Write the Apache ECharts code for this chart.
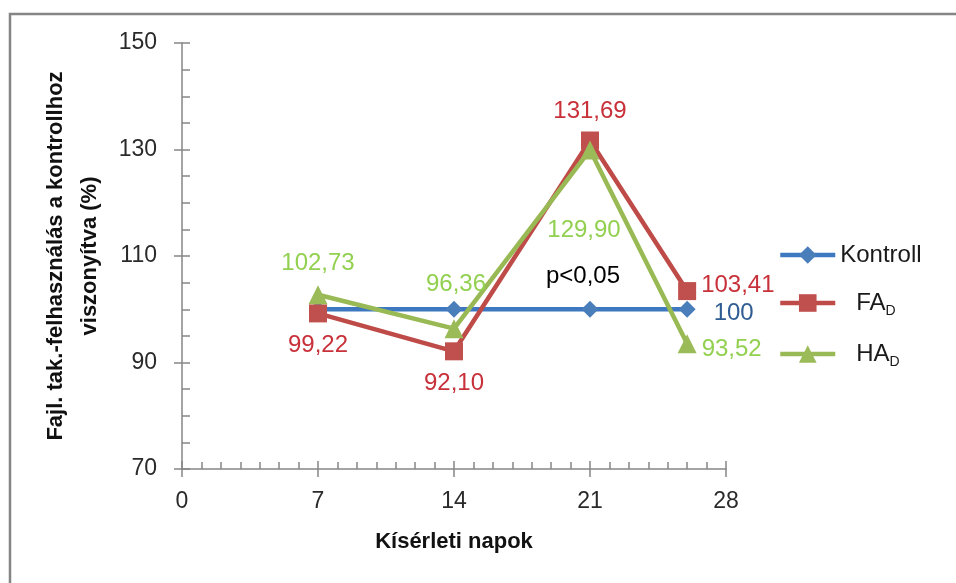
<!DOCTYPE html>
<html>
<head>
<meta charset="utf-8">
<script src="https://cdn.jsdelivr.net/npm/echarts@6/dist/echarts.min.js"></script>
<style>html,body{margin:0;padding:0;background:#fff;}#c{width:956px;height:583px;}</style>
</head>
<body>
<div id="c"></div>
<script>
// ---- data ----
const days = [7, 14, 21, 26];
const kontroll = [100, 100, 100, 100];
const faD = [99.22, 92.10, 131.69, 103.41];
const haD = [102.73, 96.36, 129.90, 93.52];
const xTicks = [0, 7, 14, 21, 28];
const yTicks = [70, 90, 110, 130, 150];
const seriesNames = ['Kontroll', 'FA_D', 'HA_D'];

const FONT = 'Liberation Sans';
const fmt = v => v.toFixed(2).replace('.', ',');

// label layout (style only)
const kLabels = [null, null,
  {show: true, position: 'top', offset: [-7, -7], color: '#000', formatter: 'p<0,05'},
  {show: true, position: 'right', offset: [13, 4], color: '#2e5c93', formatter: '100'}];
const faLabels = [
  {position: 'bottom', offset: [0, 6]},
  {position: 'bottom', offset: [0, 6]},
  {position: 'top', offset: [0, -3]},
  {position: 'right', offset: [0, -6]}];
const haLabels = [
  {position: 'top', offset: [0, -5]},
  {position: 'top', offset: [2, -18]},
  {position: 'bottom', offset: [-6, 54]},
  {position: 'right', offset: [0, 6]}];

function build(vals, labels, color, isK) {
  return vals.map((v, i) => {
    const item = {value: [days[i], v]};
    const l = labels[i];
    if (l) {
      item.label = Object.assign({
        show: true, fontSize: 24, fontFamily: FONT, color: color,
        formatter: isK ? undefined : fmt(v)
      }, l);
    }
    return item;
  });
}

const chart = echarts.init(document.getElementById('c'), null, {renderer: 'canvas'});
const axisLineStyle = {color: '#868686', width: 1.5};
const grid = {left: 182, right: 230, top: 43, bottom: 114};

chart.setOption({
  animation: false,
  backgroundColor: '#fff',
  graphic: [{
    type: 'rect', shape: {x: 10, y: 14, width: 1000, height: 1000},
    style: {fill: 'none', stroke: '#858585', lineWidth: 2.5}, silent: true, z: 100
  }],
  grid: grid,
  legend: {
    orient: 'vertical', left: 778, top: 243, padding: 0,
    itemWidth: 55, itemHeight: 22, itemGap: 21,
    data: seriesNames,
    lineStyle: {width: 4.5},
    textStyle: {fontFamily: FONT, fontSize: 24, color: '#1a1a1a',
      rich: {
        k: {fontFamily: FONT, fontSize: 24, color: '#1a1a1a', lineHeight: 30},
        n: {fontFamily: FONT, fontSize: 24, color: '#1a1a1a', lineHeight: 28, padding: [0, 0, 0, 16]},
        s: {fontFamily: FONT, fontSize: 14, color: '#1a1a1a', lineHeight: 14, padding: [16, 0, 0, 0]}
      }},
    formatter: name => name === 'Kontroll' ? '{k|Kontroll}' : '{n|' + name.split('_')[0] + '}{s|' + name.split('_')[1] + '}'
  },
  xAxis: [{
    type: 'value', min: xTicks[0], max: xTicks[xTicks.length - 1], interval: 7,
    position: 'bottom',
    name: 'Kísérleti napok', nameLocation: 'middle', nameGap: 62,
    nameTextStyle: {fontFamily: FONT, fontSize: 22, fontWeight: 'bold', color: '#111'},
    axisLine: {show: true, lineStyle: axisLineStyle},
    axisTick: {show: true, inside: true, length: 8, lineStyle: axisLineStyle},
    minorTick: {show: true, splitNumber: 7, length: 7, lineStyle: axisLineStyle},
    axisLabel: {fontFamily: FONT, fontSize: 23, color: '#2a2a2a', margin: 21},
    splitLine: {show: false}
  }, {
    type: 'value', min: xTicks[0], max: xTicks[xTicks.length - 1], interval: 7,
    position: 'bottom',
    axisLine: {show: false},
    axisTick: {show: true, inside: false, length: 8, lineStyle: axisLineStyle},
    axisLabel: {show: false}, splitLine: {show: false}
  }],
  yAxis: [{
    type: 'value', min: yTicks[0], max: yTicks[yTicks.length - 1], interval: 20,
    position: 'left',
    name: 'Fajl. tak.-felhasználás a kontrollhoz\nviszonyítva (%)', nameLocation: 'middle', nameGap: 75,
    nameTextStyle: {fontFamily: FONT, fontSize: 22, fontWeight: 'bold', color: '#111', lineHeight: 34},
    axisLine: {show: true, lineStyle: axisLineStyle},
    axisTick: {show: true, inside: true, length: 8, lineStyle: axisLineStyle},
    minorTick: {show: true, splitNumber: 4, length: 8, lineStyle: axisLineStyle},
    axisLabel: {fontFamily: FONT, fontSize: 23, color: '#2a2a2a', margin: 25},
    splitLine: {show: false}
  }, {
    type: 'value', min: yTicks[0], max: yTicks[yTicks.length - 1], interval: 20,
    position: 'left',
    axisLine: {show: false},
    axisTick: {show: true, inside: false, length: 8, lineStyle: axisLineStyle},
    axisLabel: {show: false}, splitLine: {show: false}
  }],
  series: [{
    name: 'Kontroll', type: 'line', data: build(kontroll, kLabels, '#2e5c93', true),
    symbol: 'diamond', symbolSize: 17, color: '#4a7ebb',
    lineStyle: {color: '#3d78c0', width: 4.5}, itemStyle: {color: '#4a7ebb'}, z: 2
  }, {
    name: 'FA_D', type: 'line', data: build(faD, faLabels, '#c8313a'),
    symbol: 'rect', symbolSize: 18, color: '#c0504d',
    lineStyle: {color: '#be4b48', width: 4.5}, itemStyle: {color: '#c0504d'}, z: 3
  }, {
    name: 'HA_D', type: 'line', data: build(haD, haLabels, '#92d050'),
    symbol: 'triangle', symbolSize: 19, color: '#9bbb59',
    lineStyle: {color: '#98b954', width: 4.5}, itemStyle: {color: '#9bbb59'}, z: 4
  }]
});
</script>
</body>
</html>
